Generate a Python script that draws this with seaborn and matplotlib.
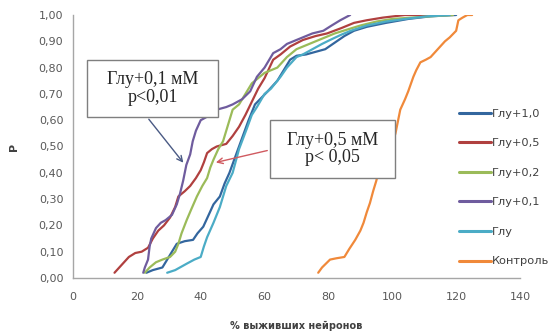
import matplotlib
matplotlib.use("Agg")
import matplotlib.pyplot as plt
import seaborn as sns
import pandas as pd
from matplotlib.patches import Rectangle
from matplotlib.ticker import FuncFormatter, MultipleLocator

# Cumulative distributions of neuron survival (%), one curve per treatment
glu10_x = [23, 25, 28, 30, 32.5, 35, 37.6, 39, 40.8, 42.5, 44, 46, 47.5, 49, 50.5, 52,
           53.5, 55, 57, 58.6, 61, 64, 66, 68, 70, 73, 76, 79, 82, 85, 88, 92, 98, 105, 112, 120]
glu10_y = [0.02, 0.03, 0.04, 0.08, 0.13, 0.14, 0.145, 0.17, 0.195, 0.24, 0.28, 0.31, 0.36,
           0.40, 0.45, 0.50, 0.55, 0.60, 0.66, 0.68, 0.71, 0.75, 0.79, 0.83, 0.845, 0.85, 0.86,
           0.87, 0.895, 0.92, 0.94, 0.955, 0.97, 0.985, 0.995, 1.0]

glu05_x = [13, 14.5, 16, 17.5, 19.5, 21.5, 23.5, 25, 26.7, 28.5, 30.4, 32, 33, 35, 36.7,
           38.5, 40, 41, 42, 43.5, 45, 48, 50, 52, 54, 56, 58, 60, 62.7, 65, 68, 72, 76,
           79.6, 84, 88, 92, 97, 104, 111]
glu05_y = [0.02, 0.04, 0.06, 0.08, 0.095, 0.10, 0.115, 0.15, 0.18, 0.20, 0.23, 0.27, 0.31,
           0.33, 0.35, 0.38, 0.41, 0.44, 0.475, 0.49, 0.50, 0.51, 0.54, 0.575, 0.62, 0.67,
           0.72, 0.76, 0.83, 0.85, 0.88, 0.905, 0.92, 0.93, 0.95, 0.97, 0.98, 0.99, 1.0, 1.0]

glu02_x = [22.5, 24, 26, 28, 30.4, 32, 33, 34, 35.6, 37, 38.8, 40.5, 42, 43, 44, 45.5, 47,
           48, 49, 50, 52, 54, 56, 58, 60, 62, 64, 67, 70, 74, 78, 82, 86, 90, 95, 100,
           106, 112, 119]
glu02_y = [0.02, 0.04, 0.06, 0.07, 0.08, 0.10, 0.13, 0.17, 0.22, 0.26, 0.31, 0.35, 0.38,
           0.42, 0.45, 0.49, 0.52, 0.56, 0.60, 0.64, 0.66, 0.70, 0.74, 0.76, 0.78, 0.79,
           0.80, 0.84, 0.87, 0.89, 0.91, 0.93, 0.945, 0.96, 0.975, 0.985, 0.99, 0.995, 1.0]

glu01_x = [22, 22.5, 23.5, 24, 24.5, 26, 27.5, 29, 31, 32.5, 33.5, 34.5, 35, 35.5, 36.7,
           37.5, 38.5, 40, 43, 45, 48, 50, 53, 55.5, 57.6, 60, 62.7, 65, 67, 69, 72, 75,
           78.4, 81, 83.7, 86.8]
glu01_y = [0.02, 0.04, 0.07, 0.12, 0.15, 0.19, 0.21, 0.22, 0.24, 0.28, 0.32, 0.37, 0.40,
           0.43, 0.47, 0.52, 0.56, 0.60, 0.62, 0.64, 0.65, 0.66, 0.68, 0.71, 0.765, 0.80,
           0.855, 0.87, 0.89, 0.90, 0.915, 0.93, 0.94, 0.96, 0.98, 1.0]

glu_x = [29.5, 32, 35.7, 38, 40, 41, 42, 44, 46, 48, 50, 52, 54.5, 56, 57.6, 60, 62, 65,
         67, 70, 72, 75, 78, 80.5, 84, 87, 92, 98, 104, 111, 118]
glu_y = [0.02, 0.03, 0.055, 0.07, 0.08, 0.12, 0.155, 0.21, 0.27, 0.35, 0.40, 0.49, 0.57,
         0.62, 0.65, 0.70, 0.72, 0.765, 0.80, 0.84, 0.85, 0.87, 0.89, 0.905, 0.925, 0.94,
         0.96, 0.975, 0.985, 0.995, 1.0]

ctrl_x = [76.8, 78, 80.5, 82.5, 85, 86.5, 88.4, 90, 91, 92, 93, 94, 95, 96, 97, 97.8, 100,
          101, 102.5, 104, 105, 106.6, 107.5, 108.8, 110.5, 112, 113.5, 115, 116.5, 118,
          120, 120.7, 122, 123.5, 125]
ctrl_y = [0.02, 0.04, 0.07, 0.075, 0.08, 0.11, 0.145, 0.18, 0.21, 0.25, 0.285, 0.33, 0.37,
          0.42, 0.45, 0.49, 0.51, 0.55, 0.64, 0.68, 0.71, 0.765, 0.79, 0.82, 0.83, 0.84,
          0.86, 0.88, 0.90, 0.915, 0.94, 0.98, 0.99, 1.0, 1.0]

series_names = ["Глу+1,0", "Глу+0,5", "Глу+0,2", "Глу+0,1", "Глу", "Контроль"]
series_x = [glu10_x, glu05_x, glu02_x, glu01_x, glu_x, ctrl_x]
series_y = [glu10_y, glu05_y, glu02_y, glu01_y, glu_y, ctrl_y]
colors = ["#33669e", "#b0403f", "#9bbb59", "#6f5c9e", "#4bacc6", "#f0893a"]

x_ticks = [0, 20, 40, 60, 80, 100, 120, 140]

rows = []
for name, xs, ys in zip(series_names, series_x, series_y):
    for i, (xv, yv) in enumerate(zip(xs, ys)):
        rows.append({"series": name, "order": i, "x": xv, "y": yv})
df = pd.DataFrame(rows)

sns.set_style("white")
plt.rcParams["font.family"] = ["DejaVu Sans"]

fig = plt.figure(figsize=(5.55, 3.34), dpi=100)
ax = fig.add_axes([73 / 555, 1 - 278 / 334, (520 - 73) / 555, (278 - 15) / 334])

sns.lineplot(data=df, x="x", y="y", hue="series", hue_order=series_names,
             palette=dict(zip(series_names, colors)), sort=False, estimator=None,
             linewidth=1.6, ax=ax)

ax.set_xlim(0, 140)
ax.set_ylim(0, 1.0)
ax.set_xticks(x_ticks)
ax.yaxis.set_major_locator(MultipleLocator(0.1))
ax.yaxis.set_major_formatter(FuncFormatter(lambda v, p: f"{v:.2f}".replace(".", ",")))

for side in ["top", "right"]:
    ax.spines[side].set_visible(False)
for side in ["left", "bottom"]:
    ax.spines[side].set_color("#a6a6a6")
    ax.spines[side].set_linewidth(1.0)
ax.tick_params(axis="both", direction="out", length=4, width=1, color="#a6a6a6",
               labelsize=8, labelcolor="#595959", pad=3)
ax.tick_params(axis="x", pad=6)

ax.set_xlabel("% выживших нейронов", fontsize=7, fontweight="bold", color="#404040",
              labelpad=14)
ax.set_ylabel("P", fontsize=8, fontweight="bold", color="#404040", labelpad=14)

handles, labels = ax.get_legend_handles_labels()
ax.get_legend().remove()
leg = fig.legend(handles, labels, loc="upper left", bbox_to_anchor=(0.818, 1 - 104 / 334),
                 frameon=False, fontsize=8.2, handlelength=2.85, handletextpad=0.12,
                 labelspacing=1.72, borderaxespad=0)
for t in leg.get_texts():
    t.set_color("#404040")
for h in leg.get_lines():
    h.set_linewidth(2.2)

# Significance call-outs: framed labels with arrows pointing at the curves
ax.annotate("", xy=(35.1, 0.43), xytext=(23.2, 0.612),
            arrowprops=dict(arrowstyle="->", color="#4a5a84", lw=1.0))
ax.annotate("", xy=(43.9, 0.437), xytext=(61.7, 0.487),
            arrowprops=dict(arrowstyle="->", color="#d05a60", lw=1.0))
callouts = [((4.4, 0.612), 41.0, 0.217, "Глу+0,1 мМ\np<0,01"),
            ((61.7, 0.380), 39.1, 0.221, "Глу+0,5 мМ\np< 0,05")]
for (x0, y0), w, h, txt in callouts:
    ax.add_patch(Rectangle((x0, y0), w, h, facecolor="white", edgecolor="#7f7f7f",
                           linewidth=1, zorder=5))
    ax.text(x0 + w / 2, y0 + h / 2, txt, ha="center", va="center", fontsize=13,
            family=["Liberation Serif"], color="#262626", linespacing=1.05, zorder=6)

fig.savefig("out.png", dpi=100)
